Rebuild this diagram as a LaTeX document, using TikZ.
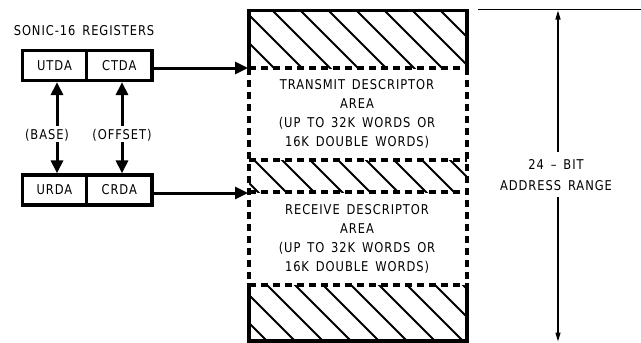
\documentclass[tikz,border=0pt]{standalone}
\usepackage{fontspec}
\setmainfont{DejaVu Sans}[LetterSpace=7, FakeStretch=0.85, WordSpace=1.5]
\usetikzlibrary{arrows.meta}
\begin{document}
\begin{tikzpicture}[x=1pt,y=-1pt,
  every node/.style={font=\fontsize{13.5}{19}\selectfont, inner sep=1pt},
  regbox/.style={draw, line width=3.2pt, minimum height=30pt, inner sep=0pt},
  bigarr/.style={line width=3pt, -{Triangle[width=12pt,length=13pt]}},
  dimarr/.style={line width=1.3pt, -{Triangle[width=5pt,length=9pt]}},
  solidedge/.style={line width=3.5pt, line cap=rect, line join=miter},
  dashedge/.style={line width=3.5pt, dash pattern=on 7pt off 5pt},
  hatchline/.style={line width=1.8pt}
]
\useasboundingbox (0,0) rectangle (641,343);

% registers
\node (title) at (84,31) {SONIC-16 REGISTERS};
\node[regbox, minimum width=64pt] (utda) at (54.5,65.5) {UTDA};
\node[regbox, minimum width=65.5pt] (ctda) at (119.25,65.5) {CTDA};
\node[regbox, minimum width=64pt] (urda) at (54.5,190) {URDA};
\node[regbox, minimum width=65.5pt] (crda) at (119.25,190) {CRDA};

\node (base) at (47,135) {(BASE)};
\node (offset) at (122,135) {(OFFSET)};
\coordinate (bx) at (57,0);
\coordinate (ox) at (122,0);
\draw[bigarr, shorten <=2pt] (base.north -| bx) -- (utda.south -| bx);
\draw[bigarr] (base.south -| bx) -- (urda.north -| bx);
\draw[bigarr, shorten <=2pt] (offset.north -| ox) -- (ctda.south -| ox);
\draw[bigarr] (offset.south -| ox) -- (crda.north -| ox);

% memory block hatching
\foreach \ya/\yb in {10.5/68, 160/192, 285/341}{
  \begin{scope}
    \clip (249,\ya) rectangle (467,\yb);
    \foreach \k in {-12,...,8}{
      \draw[hatchline] ({234+28*\k},0) -- ({234+28*\k+350},350);
    }
  \end{scope}
}
\draw[solidedge] (249,68) -- (249,10.5) -- (467,10.5) -- (467,68);
\draw[solidedge] (249,285) -- (249,341) -- (467,341) -- (467,285);
\draw[dashedge] (249,68) -- (467,68);
\draw[dashedge] (249,160) -- (467,160);
\draw[dashedge] (249,192) -- (467,192);
\draw[dashedge] (249,285) -- (467,285);
\draw[dashedge] (249,68) -- (249,285);
\draw[dashedge] (467,68) -- (467,285);

\node[align=center] (txarea) at (357,113.5) {TRANSMIT DESCRIPTOR\\AREA\\(UP TO 32K WORDS OR\\16K DOUBLE WORDS)};
\node[align=center] (rxarea) at (357,239) {RECEIVE DESCRIPTOR\\AREA\\(UP TO 32K WORDS OR\\16K DOUBLE WORDS)};

\coordinate (txin) at (248,68);
\coordinate (rxin) at (248,193);
\draw[bigarr] (ctda.east |- txin) -- (txin);
\draw[bigarr] (crda.east |- rxin) -- (rxin);

% address range
\coordinate (rtop) at (478,9.5);
\coordinate (rtopend) at (641,9.5);
\draw[line width=1.6pt] (rtop) -- (rtopend);
\node[align=center, font=\fontsize{13.5}{21}\selectfont] (range) at (556,175.5) {24 – BIT\\ADDRESS RANGE};
\coordinate (dtop) at (558,10.5);
\coordinate (dbot) at (558,341.5);
\coordinate (gap1) at (558,152);
\coordinate (gap2) at (558,197);
\draw[dimarr] (gap1) -- (dtop);
\draw[dimarr] (gap2) -- (dbot);
\end{tikzpicture}
\end{document}
